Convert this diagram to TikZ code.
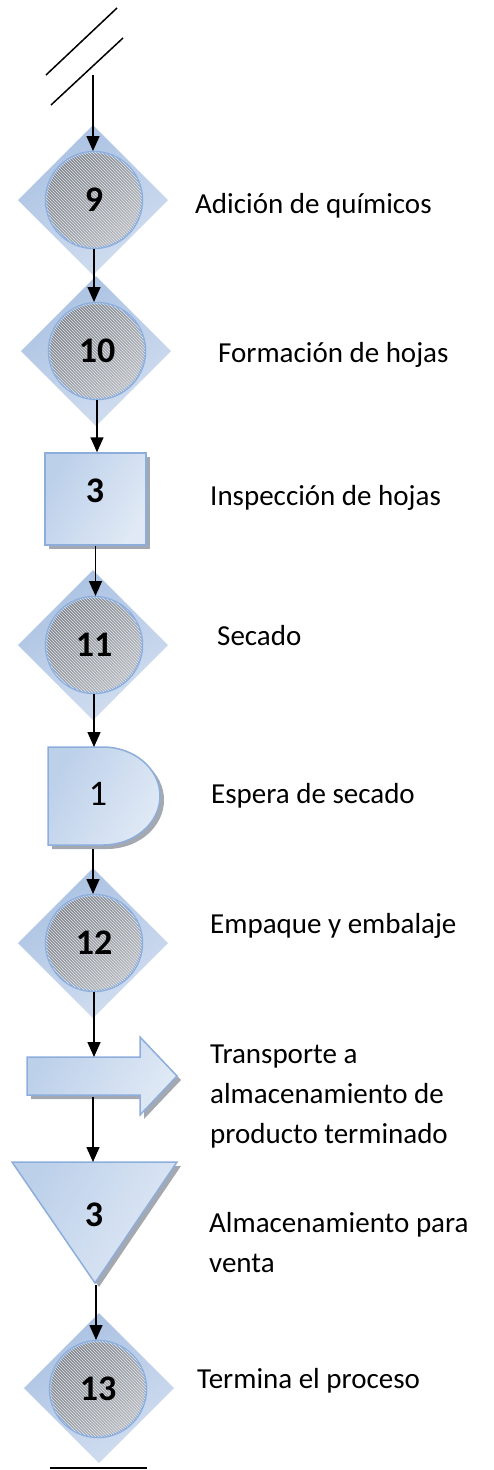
\documentclass[tikz,border=0pt]{standalone}
\usepackage{fontspec}
\setmainfont{Carlito}
\usetikzlibrary{shapes.geometric,arrows.meta,patterns,shadows}
\definecolor{dia1}{HTML}{A9C1E2}
\definecolor{dia2}{HTML}{D2DEF0}
\definecolor{edgeb}{HTML}{8DAEDB}
\definecolor{box1}{HTML}{BCD0EA}
\definecolor{box2}{HTML}{E0E9F5}
\definecolor{circ1}{HTML}{7E848E}
\definecolor{circ2}{HTML}{B8BCC3}
\definecolor{shad}{HTML}{A4A9B1}
\tikzset{
  lbl/.style={anchor=base west,inner sep=0,font=\fontsize{29}{40}\selectfont,align=left},
  num/.style={inner sep=0,font=\bfseries\fontsize{36}{36}\selectfont},
  numr/.style={inner sep=0,font=\fontsize{36}{36}\selectfont},
  diam/.style={diamond,minimum width=150pt,minimum height=150pt,inner sep=0,outer sep=0,
    shading=axis,top color=dia1,bottom color=dia2,shading angle=30},
  circ/.style={circle,minimum size=96pt,inner sep=0,outer sep=1pt,draw=edgeb,line width=2.5pt,
    shading=axis,left color=circ1,right color=circ2,shading angle=45,
    postaction={pattern=north west lines,pattern color=white!80!gray}},
  boxsh/.style={draw=edgeb,line width=1.5pt,shading=axis,left color=box1,right color=box2,shading angle=60,
    drop shadow={shadow xshift=4pt,shadow yshift=-4pt,fill=shad,opacity=1}},
  arr/.style={draw=black,line width=1.5pt,-{Triangle[length=15pt,width=13pt]}},
  ln/.style={draw=black,line width=1.5pt}
}
\begin{document}
\begin{tikzpicture}[x=1pt,y=-1pt]
\useasboundingbox (0,0) rectangle (494,1470);
% start break lines
\draw[ln] (46,75) -- (117,8);
\draw[ln] (51,105) -- (123,38);
\coordinate (s) at (93,75);
% 9
\node[diam] (d9) at (93,200) {};
\node[circ,num] (c9) at (94,200) {9};
% 10
\node[diam] (d10) at (96,351) {};
\node[circ,num] (c10) at (97,351) {10};
% square 3
\node[boxsh,rectangle,minimum width=101pt,minimum height=92pt,inner sep=0] (sq) at (95.5,499) {};
\node[num] (n3a) at (95,491) {3};
% 11
\node[diam] (d11) at (93,645) {};
\node[circ,num] (c11) at (94,645) {11};
% D shape
\path[boxsh] (48,747) -- (103,747) .. controls (134.5,747) and (160,769) .. (160,796)
  .. controls (160,823) and (134.5,845) .. (103,845) -- (48,845) -- cycle;
\coordinate (e1t) at (93,747);
\coordinate (e1b) at (93,849);
\node[numr] (n1) at (98,794) {1};
% 12
\node[diam] (d12) at (93,943) {};
\node[circ,num] (c12) at (94,943) {12};
% transport arrow
\path[boxsh] (27,1057) -- (140,1057) -- (140,1037) -- (177,1076) -- (140,1115) -- (140,1095) -- (27,1095) -- cycle;
\coordinate (trt) at (93,1057);
\coordinate (trb) at (93,1097);
% triangle
\path[boxsh] (12,1162) -- (177,1162) -- (95,1283) -- cycle;
\coordinate (tt) at (94,1162);
\coordinate (tb) at (96,1285);
\node[num] (n3b) at (94,1215) {3};
% 13
\node[diam] (d13) at (99,1388) {};
\node[circ,num] (c13) at (98,1389) {13};
\coordinate (e0) at (50,1468);
\coordinate (e2) at (147,1468);
\draw[ln] (e0) -- (e2);
% connectors
\draw[arr] (s) -- (s |- c9.north);
\draw[arr] (c9.south) -- (c9.south |- c10.north);
\draw[arr] (c10.south) -- (c10.south |- sq.north);
\draw[arr] (sq.south) -- (sq.south |- c11.north);
\draw[arr] (c11.south) -- (c11.south |- e1t);
\draw[arr] (e1b) -- (e1b |- c12.north);
\draw[arr] (c12.south) -- (c12.south |- trt);
\draw[arr] (trb) -- (trb |- tt);
\draw[arr] (tb) -- (tb |- c13.north);
% labels
\node[lbl] (l9) at (195,213) {Adición de químicos};
\node[lbl] (l10) at (218,362) {Formación de hojas};
\node[lbl] (l3a) at (210,505) {Inspección de hojas};
\node[lbl] (l11) at (217,645) {Secado};
\node[lbl] (l1) at (211,803) {Espera de secado};
\node[lbl] (l12) at (210,933) {Empaque y embalaje};
\node[lbl] (ltr) at (210,1143) {Transporte a\\almacenamiento de\\producto terminado};
\node[lbl] (l3b) at (209,1272) {Almacenamiento para\\venta};
\node[lbl] (l13) at (197,1388) {Termina el proceso};
\end{tikzpicture}
\end{document}
